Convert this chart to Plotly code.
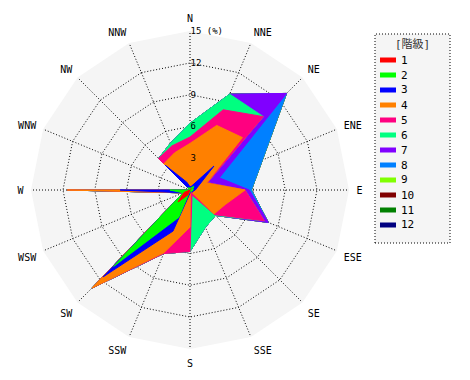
import numpy as np
import plotly.graph_objects as go

directions = ["N", "NNE", "NE", "ENE", "E", "ESE", "SE", "SSE",
              "S", "SSW", "SW", "WSW", "W", "WNW", "NW", "NNW"]
class_names = ["1", "2", "3", "4", "5", "6", "7", "8", "9", "10", "11", "12"]
colors = ["#FF0000", "#00FF00", "#0000FF", "#FF8000", "#FF0080", "#00FF80",
          "#8000FF", "#0080FF", "#80FF00", "#800000", "#008000", "#000080"]

# frequency (%) of each class per direction (N, NNE, ... NNW)
class1 = [0, 0, 0.2, 0, 0, 0, 0, 0, 0, 0.5, 1.6, 0.6, 0, 0, 0, 0]
class2 = [0.2, 0.2, 0.3, 0.3, 0.3, 0.2, 0.2, 0.1, 0.1, 2.3, 8.6, 0.1, 1.9, 0, 0.3, 0.2]
class3 = [0.1, 0.2, 2.7, 0.5, 0.2, 0.1, 0.1, 0, 0.2, 1.4, 1.4, 0, 4.7, 0, 3.0, 0.6]
class4 = [4.1, 6.2, 3.8, 0.9, 4.7, 3.3, 2.9, 0, 3.2, 2.2, 1.5, 0, 5.0, 0, 0.2, 3.0]
class5 = [0.6, 1.6, 2.8, 0.1, 0, 4.0, 0.1, 0.4, 2.3, 0.1, 0, 0, 0, 0, 0.7, 0.7]
class6 = [1.3, 1.6, 0, 0, 0, 0, 0.1, 3.3, 0, 0, 0, 0, 0, 0, 0, 0.3]
class7 = [0, 0, 3.1, 1.2, 0.4, 0.4, 0, 0, 0, 0, 0, 0, 0, 0, 0, 0]
class8 = [0, 0, 0, 4.4, 0.2, 0, 0, 0, 0, 0, 0, 0, 0, 0, 0, 0]
class9 = [0] * 16
class10 = [0] * 16
class11 = [0] * 16
class12 = [0] * 16

radial_ticks = [3, 6, 9, 12, 15]
radial_labels = ["3", "6", "9", "12", "15 (%)"]
legend_title = "[階級]"

classes = [class1, class2, class3, class4, class5, class6,
           class7, class8, class9, class10, class11, class12]
cum = np.cumsum(np.array(classes, dtype=float), axis=0)

FONT = "DejaVu Sans Mono, Noto Sans CJK JP, monospace"

fig = go.Figure()
for k in reversed(range(len(classes))):
    r = list(cum[k]) + [cum[k][0]]
    th = directions + [directions[0]]
    fig.add_trace(go.Scatterpolar(
        r=r, theta=th, mode="lines", fill="toself",
        fillcolor=colors[k], line=dict(color=colors[k], width=1),
        name=class_names[k], hoverinfo="skip", showlegend=False))

W, H = 470, 380
cx, cy, R = 190, 190, 159


def px(x):
    return x / W


def py(y):
    return 1 - y / H


# legend (box, colour bars, labels)
shapes = [dict(type="rect", xref="paper", yref="paper",
               x0=px(375), x1=px(450), y0=py(243), y1=py(34),
               line=dict(color="black", width=1, dash="1px,2px"),
               fillcolor="#f5f5f5", layer="below")]
annotations = [dict(text=legend_title, x=px(412), y=py(44), xref="paper", yref="paper",
                    showarrow=False, xanchor="center", yanchor="middle",
                    font=dict(family=FONT, size=11, color="#333333"))]
for i, name in enumerate(class_names):
    yc = 60 + 15 * i
    shapes.append(dict(type="rect", xref="paper", yref="paper",
                       x0=px(380), x1=px(396), y0=py(yc + 2.5), y1=py(yc - 2.5),
                       line=dict(width=0), fillcolor=colors[i]))
    annotations.append(dict(text=name, x=px(399), y=py(yc), xref="paper", yref="paper",
                            showarrow=False, xanchor="left", yanchor="middle",
                            font=dict(family=FONT, size=11, color="black")))

fig.update_layout(
    width=W, height=H,
    margin=dict(l=0, r=0, t=0, b=0),
    paper_bgcolor="white",
    font=dict(family=FONT, size=11, color="black"),
    showlegend=False,
    polar=dict(
        domain=dict(x=[(cx - R) / W, (cx + R) / W],
                    y=[(H - cy - R) / H, (H - cy + R) / H]),
        bgcolor="#f5f5f5",
        gridshape="linear",
        angularaxis=dict(
            rotation=90, direction="clockwise", type="category",
            categoryarray=directions, showline=False,
            ticks="outside", ticklen=5, tickcolor="rgba(0,0,0,0)",
            showgrid=True, gridcolor="black", griddash="1px,2px", gridwidth=1,
            tickfont=dict(family=FONT, size=10, color="black")),
        radialaxis=dict(
            range=[0, 15.02], tickvals=radial_ticks, ticktext=radial_labels,
            angle=90, side="clockwise", tickangle=90,
            showline=False, ticks="",
            showgrid=True, gridcolor="black", griddash="1px,2px", gridwidth=1,
            tickfont=dict(family=FONT, size=9, color="black")),
    ),
    shapes=shapes,
    annotations=annotations,
)

fig.write_html("out.html", config={"displayModeBar": False},
               post_script="document.body.style.margin='0px';")
